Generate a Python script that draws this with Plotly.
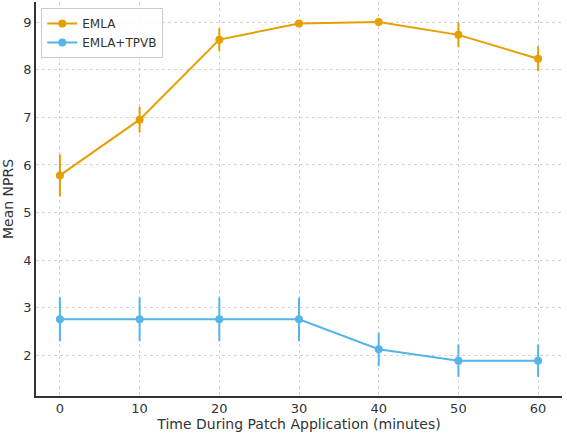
import plotly.graph_objects as go

time_min = [0, 10, 20, 30, 40, 50, 60]
emla_mean = [5.78, 6.95, 8.63, 8.97, 9.0, 8.73, 8.23]
emla_err = [0.44, 0.27, 0.24, 0.0, 0.0, 0.26, 0.26]
tpvb_mean = [2.76, 2.76, 2.76, 2.76, 2.13, 1.89, 1.89]
tpvb_err = [0.46, 0.46, 0.46, 0.46, 0.35, 0.34, 0.34]
x_ticks = [0, 10, 20, 30, 40, 50, 60]
y_ticks = [2, 3, 4, 5, 6, 7, 8, 9]

ORANGE = "#E69F00"
BLUE = "#56B4E9"

fig = go.Figure()
fig.add_trace(go.Scatter(
    x=time_min, y=emla_mean, name="EMLA", mode="lines+markers",
    line=dict(color=ORANGE, width=2), marker=dict(color=ORANGE, size=8),
    error_y=dict(type="data", array=emla_err, visible=True, color=ORANGE, thickness=2, width=0),
))
fig.add_trace(go.Scatter(
    x=time_min, y=tpvb_mean, name="EMLA+TPVB", mode="lines+markers",
    line=dict(color=BLUE, width=2), marker=dict(color=BLUE, size=8),
    error_y=dict(type="data", array=tpvb_err, visible=True, color=BLUE, thickness=2, width=0),
))

grid = dict(showgrid=True, gridcolor="#d4d4d4", gridwidth=1, griddash="dot")
fig.update_layout(
    width=567, height=436,
    margin=dict(l=36, r=5, t=2, b=40),
    paper_bgcolor="white", plot_bgcolor="white",
    font=dict(family="DejaVu Sans", size=13, color="#333333"),
    showlegend=True,
    legend=dict(x=0.01, y=0.985, xanchor="left", yanchor="top",
                bgcolor="rgba(255,255,255,0.85)", bordercolor="#cccccc", borderwidth=1,
                font=dict(size=12, color="#333333"), tracegroupgap=0),
    xaxis=dict(range=[-3, 63], tickvals=x_ticks, zeroline=False,
               showline=True, linecolor="#333333", linewidth=1.5,
               title=dict(text="Time During Patch Application (minutes)", standoff=4, font=dict(size=14)),
               ticks="", **grid),
    yaxis=dict(range=[1.15, 9.42], tickvals=y_ticks, zeroline=False,
               showline=True, linecolor="#333333", linewidth=1.5,
               title=dict(text="Mean NPRS", standoff=6, font=dict(size=14)),
               ticks="", **grid),
)
fig.write_html("out.html")
